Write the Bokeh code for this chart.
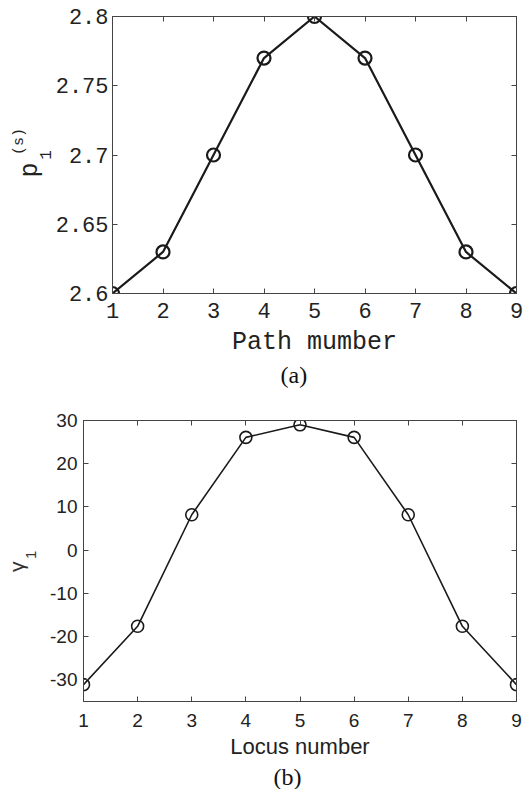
from bokeh.plotting import figure
from bokeh.layouts import column
from bokeh.models import Range1d, LinearAxis, Title, FixedTicker, CustomJSTickFormatter
from bokeh.embed import file_html
from bokeh.resources import INLINE

# ---- data ----
path_number = [1, 2, 3, 4, 5, 6, 7, 8, 9]
p1_s = [2.60, 2.63, 2.70, 2.77, 2.80, 2.77, 2.70, 2.63, 2.60]
p_ticks = [2.6, 2.65, 2.7, 2.75, 2.8]
p_tick_labels = {2.6: "2.6", 2.65: "2.65", 2.7: "2.7", 2.75: "2.75", 2.8: "2.8"}

locus_number = [1, 2, 3, 4, 5, 6, 7, 8, 9]
gamma1 = [-31.1, -17.6, 8.2, 26.1, 29.0, 26.1, 8.2, -17.6, -31.1]
g_ticks = [-30, -20, -10, 0, 10, 20, 30]
g_tick_labels = {-30: "-30", -20: "-20", -10: "-10", 0: "0", 10: "10", 20: "20", 30: "30"}

MONO = "Liberation Mono"
SANS = "Liberation Sans"
SERIF = "Liberation Serif"
NB = "\u00a0"


def setup(p, font, size, color, tick_len, xticks, yticks, ylabels):
    p.grid.visible = False
    p.outline_line_color = "#333333"
    if "frame_align" in p.properties():
        p.frame_align = False
    xa, ya = p.below[0], p.left[0]
    xa.ticker = FixedTicker(ticks=xticks)
    ya.ticker = FixedTicker(ticks=yticks)
    ya.major_label_overrides = ylabels
    for ax in (xa, ya):
        ax.major_tick_in = tick_len
        ax.major_tick_out = 0
        ax.minor_tick_line_color = None
        ax.major_tick_line_color = color
        ax.axis_line_color = color
        ax.major_label_text_font = font
        ax.major_label_text_font_size = size
        ax.major_label_text_color = "#222222"
    for side, ticks in (("above", xticks), ("right", yticks)):
        ax = LinearAxis(ticker=FixedTicker(ticks=ticks),
                        formatter=CustomJSTickFormatter(code="return ''"))
        ax.major_tick_in = tick_len
        ax.major_tick_out = 0
        ax.minor_tick_line_color = None
        ax.major_tick_line_color = color
        ax.axis_line_color = color
        ax.major_label_standoff = 0
        p.add_layout(ax, side)
    return xa, ya


def style_label(ax, text, font, size, standoff, color="#222222", vertical=False):
    ax.axis_label = text
    ax.axis_label_text_font = font
    ax.axis_label_text_font_size = size
    ax.axis_label_text_font_style = "normal"
    ax.axis_label_text_color = color
    ax.axis_label_standoff = standoff
    if vertical:
        ax.axis_label_orientation = "vertical"


def label_axis(p, text, font, size, standoff, color="#222222"):
    # an extra left axis carrying only a piece of the y label
    ax = LinearAxis(ticker=FixedTicker(ticks=[]), axis_line_color=None,
                    major_tick_line_color=None, minor_tick_line_color=None,
                    major_label_standoff=0)
    style_label(ax, text, font, size, standoff, color, vertical=True)
    p.add_layout(ax, "left")


def caption(p, text, offset, standoff, size="24px"):
    p.add_layout(Title(text=text, align="left", offset=offset, standoff=standoff,
                       text_font=SERIF, text_font_size=size, text_font_style="normal",
                       text_color="#111111"), "below")


# ---- top panel (a) ----
p1 = figure(width=524, height=388, x_range=Range1d(1, 9), y_range=Range1d(2.6, 2.8),
            output_backend="svg", toolbar_location=None,
            min_border_left=112, min_border_right=8, min_border_top=16, min_border_bottom=95)
p1.title.visible = False
xa1, ya1 = setup(p1, MONO, "22px", "#444444", 5, path_number, p_ticks, p_tick_labels)
xa1.major_label_standoff = 9
ya1.major_label_standoff = 4
style_label(xa1, "Path mumber", MONO, "25px", 7)
style_label(ya1, "1", MONO, "16px", 2, vertical=True)
label_axis(p1, "p" + NB * 2, MONO, "25px", -8)
label_axis(p1, NB * 3 + "(s)", MONO, "15px", -15)

p1.line(path_number, p1_s, line_color="#1a1a1a", line_width=2.2)
p1.scatter(path_number, p1_s, marker="circle", size=13, fill_color=None,
           line_color="#1a1a1a", line_width=2.2)
caption(p1, "(a)", 168, 0)

# ---- bottom panel (b) ----
p2 = figure(width=524, height=401, x_range=Range1d(1, 9), y_range=Range1d(-35, 30),
            output_backend="svg", toolbar_location=None,
            min_border_left=83, min_border_right=8, min_border_top=32, min_border_bottom=86)
p2.title.visible = False
xa2, ya2 = setup(p2, SANS, "19px", "#444444", 5, locus_number, g_ticks, g_tick_labels)
xa2.major_label_standoff = 12
ya2.major_label_standoff = 6
style_label(xa2, "Locus number", SANS, "22px", 4)
style_label(ya2, NB * 3 + "1", SANS, "15px", 8, "#333333", vertical=True)
label_axis(p2, "γ" + NB * 2, SANS, "21px", -8, "#333333")

p2.line(locus_number, gamma1, line_color="#1a1a1a", line_width=1.6)
p2.scatter(locus_number, gamma1, marker="circle", size=12, fill_color=None,
           line_color="#1a1a1a", line_width=1.6)
caption(p2, "(b)", 190, 0, "24px")

layout = column(p1, p2, spacing=0)
open("out.html", "w").write(file_html(layout, INLINE))
